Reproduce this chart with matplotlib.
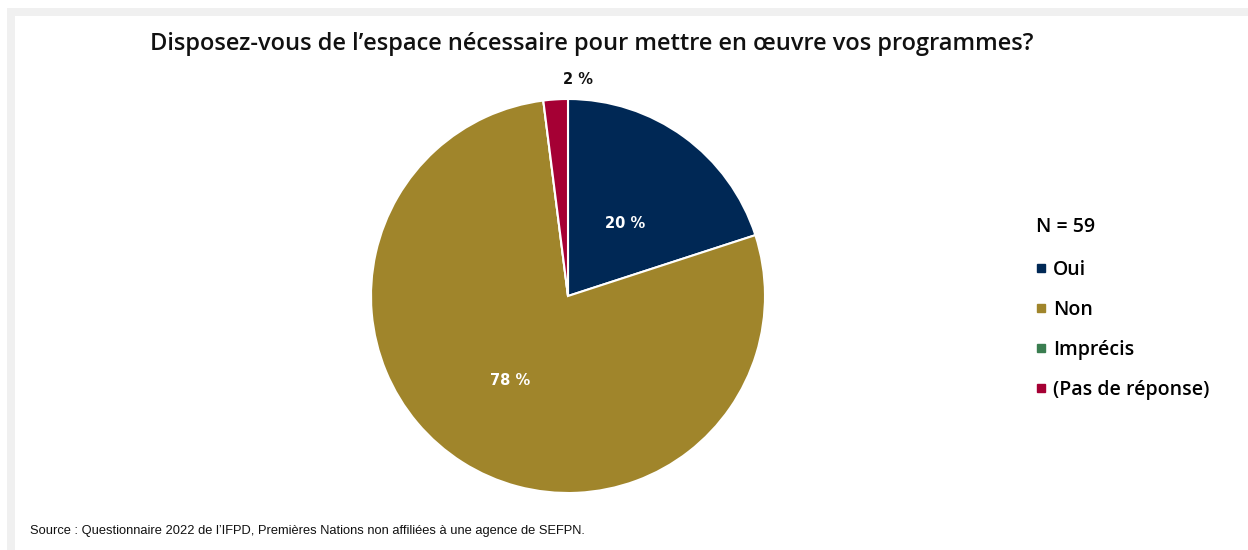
import matplotlib
matplotlib.use("Agg")
import matplotlib.pyplot as plt
from matplotlib.lines import Line2D
from matplotlib.patches import Rectangle
import numpy as np

title = "Disposez-vous de l\u2019espace nécessaire pour mettre en œuvre vos programmes?"
categories = ["Oui", "Non", "Imprécis", "(Pas de réponse)"]
percents = [20, 78, 0, 2]
colors = ["#002855", "#A0852B", "#3A7D50", "#A50034"]
n_label = "N = 59"
source = "Source : Questionnaire 2022 de l\u2019IFPD, Premières Nations non affiliées à une agence de SEFPN."

W, H = 1248, 550
fig = plt.figure(figsize=(W / 100, H / 100), dpi=100)
fig.patch.set_facecolor("white")

# light grey frame along the top and left edges
fig.patches.append(Rectangle((7 / W, 0), 8 / W, (H - 8) / H, transform=fig.transFigure,
                             facecolor="#F0F0F0", edgecolor="none"))
fig.patches.append(Rectangle((7 / W, (H - 16) / H), (W - 7) / W, 8 / H, transform=fig.transFigure,
                             facecolor="#F0F0F0", edgecolor="none"))

font = "Open Sans"
label_font = "DejaVu Sans"

fig.text(592 / W, 1 - 44 / H, title, ha="center", va="center",
         fontsize=17, fontweight="semibold", family=font, color="#111111")

cx, cy, r = 568, 296, 197
ax = fig.add_axes([(cx - r) / W, (H - cy - r) / H, 2 * r / W, 2 * r / H])
wedges, _ = ax.pie(percents, colors=colors, startangle=90, counterclock=False,
                   radius=1, wedgeprops=dict(edgecolor="white", linewidth=1.5))
ax.set_xlim(-1, 1)
ax.set_ylim(-1, 1)
ax.set_aspect("equal")
ax.axis("off")

for w, p in zip(wedges, percents):
    if p == 0:
        continue
    mid = np.deg2rad((w.theta1 + w.theta2) / 2)
    if p < 5:
        ax.text(0.05, 1.1, f"{p} %", ha="center", va="center", fontsize=10.5,
                fontweight="bold", family=label_font, color="#111111")
    else:
        d = 0.47 if p < 50 else 0.52
        ax.text(d * np.cos(mid - 0.04), d * np.sin(mid - 0.04), f"{p} %",
                ha="center", va="center", fontsize=10.5, fontweight="bold",
                family=label_font, color="white")

handles = [Line2D([], [], marker="s", linestyle="none", markersize=6,
                  markerfacecolor=c, markeredgecolor=c) for c in colors]
leg = fig.legend(handles, categories, loc="upper left",
                 bbox_to_anchor=(1018 / W, 1 - 200 / H), frameon=False,
                 title=n_label, alignment="left", handlelength=0.6,
                 handletextpad=0.3, labelspacing=1.03,
                 prop=dict(family=font, size=14, weight="semibold"),
                 title_fontproperties=dict(family=font, size=14, weight="semibold"))
leg._legend_box.sep = 16

fig.text(30 / W, 1 - 531 / H, source, ha="left", va="center", fontsize=9.25,
         family="Liberation Sans", color="#111111")

fig.savefig("out.png", dpi=100)
